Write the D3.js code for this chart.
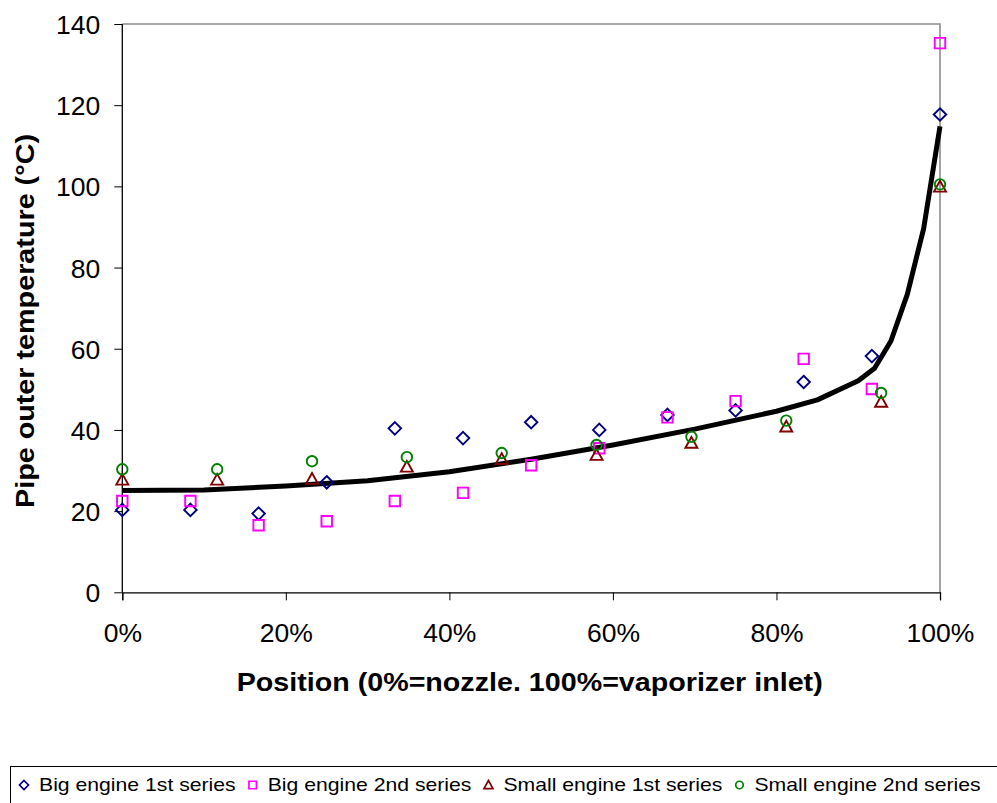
<!DOCTYPE html>
<html>
<head>
<meta charset="utf-8">
<script src="https://cdn.jsdelivr.net/npm/d3@7"></script>
<style>
  body { margin: 0; background: #fff; }
  svg { display: block; font-family: "Liberation Sans", Arial, sans-serif; }
</style>
</head>
<body>
<svg id="chart" width="997" height="803"></svg>
<script>
// measured positions along the pipe (%)
var bigPos = [0, 8.33, 16.67, 25, 33.33, 41.67, 50, 58.33, 66.67, 75, 83.33, 91.67, 100];
var smallPos = [0, 11.6, 23.2, 34.8, 46.4, 58.0, 69.6, 81.2, 92.8, 100];

// pipe outer temperature (°C)
var bigFirst = [20.3, 20.3, 19.4, 27.1, 40.4, 38.0, 41.9, 40.0, 43.7, 44.8, 51.8, 58.2, 117.7];
var bigSecond = [22.5, 22.5, 16.5, 17.5, 22.5, 24.5, 31.3, 35.5, 43.1, 47.1, 57.5, 50.1, 135.3];
var smallFirst = [27.7, 27.7, 27.9, 30.9, 32.8, 33.8, 36.8, 40.8, 46.9, 99.9];
var smallSecond = [30.3, 30.3, 32.3, 33.3, 34.3, 36.3, 38.3, 42.3, 49.1, 100.5];

// model curve
var modelPos = [0, 10, 20, 30, 40, 50, 60, 70, 80, 85, 90, 92, 94, 96, 98, 100];
var modelTemp = [25.1, 25.2, 26.2, 27.5, 29.7, 32.8, 36.3, 40.2, 44.6, 47.4, 52.1, 55.2, 61.9, 73.4, 89.6, 114.8];

var yTicks = [0, 20, 40, 60, 80, 100, 120, 140];
var xTicks = [0, 20, 40, 60, 80, 100];

var seriesNames = ['Big engine 1st series', 'Big engine 2nd series',
  'Small engine 1st series', 'Small engine 2nd series'];

var svg = d3.select('#chart');

var x = d3.scaleLinear().domain([0, 100]).range([122.3, 940]);
var y = d3.scaleLinear().domain([0, 140]).range([592.3, 24]);

/**
 * Plot frame: grey top and right edges, black axes.
 */
svg.append('path')
    .attr('d', 'M' + x(0) + ',' + y(140) + 'H' + x(100) + 'V' + y(0))
    .attr('fill', 'none')
    .attr('stroke', '#8c8c8c')
    .attr('stroke-width', 1.6);

var yAxis = svg.append('g')
    .attr('transform', 'translate(' + x(0) + ',0)')
    .call(d3.axisLeft(y).tickValues(yTicks).tickSize(8).tickPadding(14));

var xAxis = svg.append('g')
    .attr('transform', 'translate(0,' + y(0) + ')')
    .call(d3.axisBottom(x).tickValues(xTicks).tickSize(8).tickPadding(14)
        .tickFormat(function(d) { return d + '%'; }));

[yAxis, xAxis].forEach(function(ax) {
  ax.select('.domain').attr('stroke', '#000').attr('stroke-width', 1.3);
  ax.selectAll('.tick line').attr('stroke', '#000').attr('stroke-width', 1);
  ax.selectAll('.tick text')
      .attr('fill', '#000')
      .style('font-size', '26.5px')
      .style('font-family', '"Liberation Sans", Arial, sans-serif');
});
yAxis.selectAll('.domain').attr('d', 'M0,' + y(0) + 'V' + y(140));
yAxis.selectAll('.tick text').attr('dy', '0.36em');
xAxis.selectAll('.tick text').attr('dy', '0').attr('y', 642 - y(0));

/**
 * Axis titles.
 */
svg.append('text')
    .attr('x', 236.7)
    .attr('y', 690.5)
    .attr('textLength', 586)
    .attr('lengthAdjust', 'spacingAndGlyphs')
    .style('font-size', '26.5px')
    .style('font-weight', 'bold')
    .text('Position (0%=nozzle. 100%=vaporizer inlet)');

svg.append('text')
    .attr('transform', 'translate(33.5,508) rotate(-90)')
    .attr('textLength', 374)
    .attr('lengthAdjust', 'spacingAndGlyphs')
    .style('font-size', '26.5px')
    .style('font-weight', 'bold')
    .text('Pipe outer temperature (°C)');

/**
 * Model curve.
 */
var line = d3.line()
    .x(function(d) { return x(d[0]); })
    .y(function(d) { return y(d[1]); });

svg.append('path')
    .datum(d3.zip(modelPos, modelTemp))
    .attr('d', line)
    .attr('fill', 'none')
    .attr('stroke', '#000')
    .attr('stroke-width', 5)
    .attr('stroke-linejoin', 'round');

/**
 * Marker shapes, drawn around (0,0).
 */
function markerPath(kind, s) {
  var h = s / 2;
  if (kind === 'diamond') {
    return 'M0,' + (-h) + 'L' + h + ',0L0,' + h + 'L' + (-h) + ',0Z';
  }
  if (kind === 'square') {
    return 'M' + (-h) + ',' + (-h) + 'h' + s + 'v' + s + 'h' + (-s) + 'Z';
  }
  if (kind === 'triangle') {
    return 'M0,' + (-h) + 'L' + h + ',' + (h * 0.8) + 'L' + (-h) + ',' + (h * 0.8) + 'Z';
  }
  return 'M' + h + ',0A' + h + ',' + h + ' 0 1,1 ' + (-h) + ',0A' + h + ',' + h + ' 0 1,1 ' + h + ',0Z';
}

var series = [
  {name: seriesNames[0], pos: bigPos, vals: bigFirst, kind: 'diamond', color: '#000080', size: 12.5, legendSize: 9},
  {name: seriesNames[1], pos: bigPos, vals: bigSecond, kind: 'square', color: '#ff00ff', size: 10.5, legendSize: 7.5},
  {name: seriesNames[2], pos: smallPos, vals: smallFirst, kind: 'triangle', color: '#800000', size: 12, legendSize: 9},
  {name: seriesNames[3], pos: smallPos, vals: smallSecond, kind: 'circle', color: '#008000', size: 10.5, legendSize: 7.5}
];

series.forEach(function(s) {
  svg.append('g').selectAll('path')
      .data(d3.zip(s.pos, s.vals))
      .enter().append('path')
      .attr('transform', function(d) { return 'translate(' + x(d[0]) + ',' + y(d[1]) + ')'; })
      .attr('d', markerPath(s.kind, s.size))
      .attr('fill', 'none')
      .attr('stroke', s.color)
      .attr('stroke-width', 1.9);
});

/**
 * Legend along the bottom, partly cut off by the page edge.
 */
svg.append('rect')
    .attr('x', 10.5)
    .attr('y', 766.5)
    .attr('width', 1000)
    .attr('height', 60)
    .attr('fill', 'none')
    .attr('stroke', '#000')
    .attr('stroke-width', 1);

var cursor = 7;
series.forEach(function(s) {
  var mx = cursor + 17;
  svg.append('path')
      .attr('transform', 'translate(' + mx + ',' + 785 + ')')
      .attr('d', markerPath(s.kind, s.legendSize))
      .attr('fill', 'none')
      .attr('stroke', s.color)
      .attr('stroke-width', 1.7);
  var t = svg.append('text')
      .attr('x', mx + 15)
      .attr('y', 791)
      .style('font-size', '19px')
      .text(s.name);
  var w = t.node().getComputedTextLength() * 1.115;
  t.attr('textLength', w).attr('lengthAdjust', 'spacingAndGlyphs');
  cursor = mx + 15 + w;
});
</script>
</body>
</html>
